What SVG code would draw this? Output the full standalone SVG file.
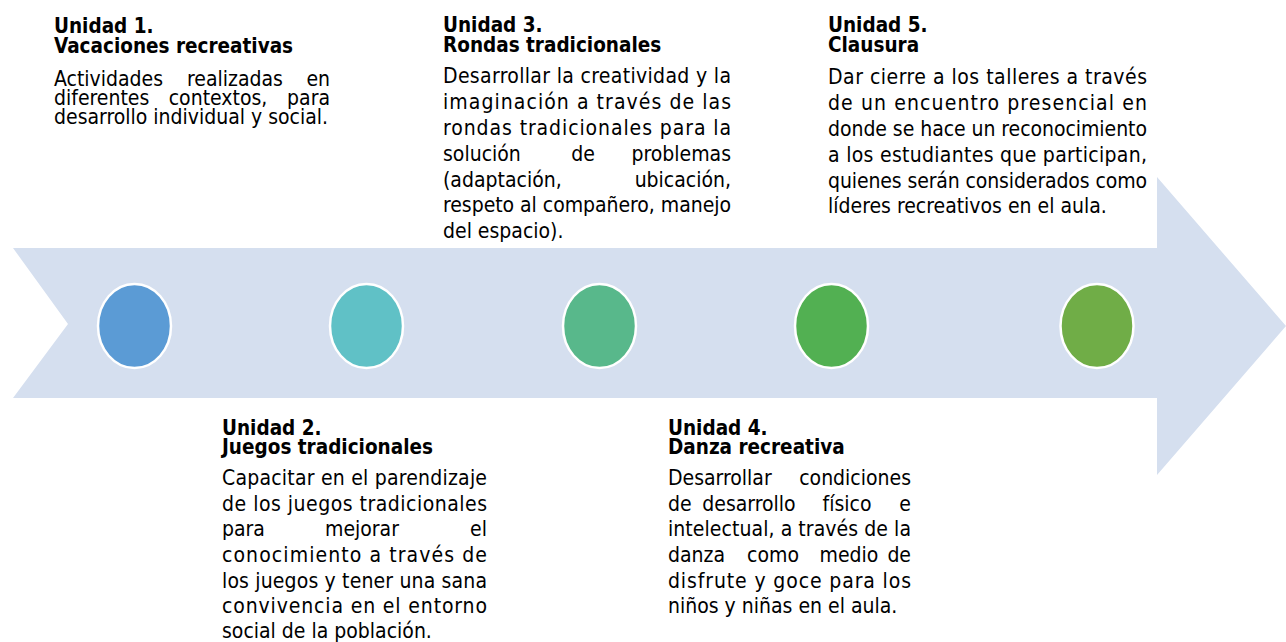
<svg xmlns="http://www.w3.org/2000/svg" width="1286" height="642" viewBox="0 0 1286 642">
  <style>
    text { font-family: "DejaVu Sans Condensed", "DejaVu Sans", sans-serif; font-stretch: condensed; fill: #000; }
    .t { font-size: 20.5px; font-weight: bold; }
    .b { font-size: 21px; }
    .e { text-anchor: end; }
    .m { text-anchor: middle; }
    .dot { stroke: #ffffff; stroke-width: 2.5; }
  </style>
  <rect x="0" y="0" width="1286" height="642" fill="#ffffff"/>
  <g id="timeline-arrow">
    <polygon points="13,248 1157,248 1157,177 1286,326 1157,475 1157,398 13,398 68,324" fill="#D5DFEF"/>
  </g>
  <g id="connectors"></g>

  <g id="node-unidad1">
    <ellipse class="dot" cx="134.5" cy="326" rx="36.5" ry="42" fill="#5B9BD5"/>
    <text class="t" x="54" y="33">Unidad 1.</text>
    <text class="t" x="54" y="53">Vacaciones recreativas</text>
    <text class="b" x="54" y="86">Actividades</text>
    <text class="b m" x="235" y="86">realizadas</text>
    <text class="b e" x="330" y="86">en</text>
    <text class="b" x="54" y="105">diferentes</text>
    <text class="b m" x="218" y="105">contextos,</text>
    <text class="b e" x="330" y="105">para</text>
    <text class="b" x="54" y="124">desarrollo individual y social.</text>
  </g>

  <g id="node-unidad2">
    <ellipse class="dot" cx="366.5" cy="326" rx="36.5" ry="42" fill="#60C1C6"/>
    <text class="t" x="222" y="435">Unidad 2.</text>
    <text class="t" x="222" y="454">Juegos tradicionales</text>
    <text class="b" x="222" y="485" textLength="265" lengthAdjust="spacing">Capacitar en el parendizaje</text>
    <text class="b" x="222" y="511" textLength="265" lengthAdjust="spacing">de los juegos tradicionales</text>
    <text class="b" x="222" y="536">para</text>
    <text class="b m" x="362" y="536">mejorar</text>
    <text class="b e" x="487" y="536">el</text>
    <text class="b" x="222" y="562" textLength="265" lengthAdjust="spacing">conocimiento a través de</text>
    <text class="b" x="222" y="588" textLength="265" lengthAdjust="spacing">los juegos y tener una sana</text>
    <text class="b" x="222" y="613" textLength="265" lengthAdjust="spacing">convivencia en el entorno</text>
    <text class="b" x="222" y="638">social de la población.</text>
  </g>

  <g id="node-unidad3">
    <ellipse class="dot" cx="599.5" cy="326" rx="36.5" ry="42" fill="#58B88B"/>
    <text class="t" x="443" y="32">Unidad 3.</text>
    <text class="t" x="443" y="52">Rondas tradicionales</text>
    <text class="b" x="443" y="83" textLength="288" lengthAdjust="spacing">Desarrollar la creatividad y la</text>
    <text class="b" x="443" y="109" textLength="288" lengthAdjust="spacing">imaginación a través de las</text>
    <text class="b" x="443" y="135" textLength="288" lengthAdjust="spacing">rondas tradicionales para la</text>
    <text class="b" x="443" y="161">solución</text>
    <text class="b m" x="583" y="161">de</text>
    <text class="b e" x="731" y="161">problemas</text>
    <text class="b" x="443" y="187">(adaptación,</text>
    <text class="b e" x="731" y="187">ubicación,</text>
    <text class="b" x="443" y="212" textLength="288" lengthAdjust="spacing">respeto al compañero, manejo</text>
    <text class="b" x="443" y="238">del espacio).</text>
  </g>

  <g id="node-unidad4">
    <ellipse class="dot" cx="831.5" cy="326" rx="36.5" ry="42" fill="#52B052"/>
    <text class="t" x="668" y="435">Unidad 4.</text>
    <text class="t" x="668" y="454">Danza recreativa</text>
    <text class="b" x="668" y="485">Desarrollar</text>
    <text class="b e" x="911" y="485">condiciones</text>
    <text class="b" x="668" y="511">de</text>
    <text class="b m" x="749" y="511">desarrollo</text>
    <text class="b m" x="847" y="511">físico</text>
    <text class="b e" x="911" y="511">e</text>
    <text class="b" x="668" y="536" textLength="243" lengthAdjust="spacing">intelectual, a través de la</text>
    <text class="b" x="668" y="562">danza</text>
    <text class="b m" x="773" y="562">como</text>
    <text class="b m" x="849" y="562">medio</text>
    <text class="b e" x="911" y="562">de</text>
    <text class="b" x="668" y="588" textLength="243" lengthAdjust="spacing">disfrute y goce para los</text>
    <text class="b" x="668" y="613">niños y niñas en el aula.</text>
  </g>

  <g id="node-unidad5">
    <ellipse class="dot" cx="1097" cy="326" rx="36.5" ry="42" fill="#70AD47"/>
    <text class="t" x="828" y="32">Unidad 5.</text>
    <text class="t" x="828" y="52">Clausura</text>
    <text class="b" x="828" y="84" textLength="319" lengthAdjust="spacing">Dar cierre a los talleres a través</text>
    <text class="b" x="828" y="110" textLength="319" lengthAdjust="spacing">de un encuentro presencial en</text>
    <text class="b" x="828" y="136" textLength="319" lengthAdjust="spacing">donde se hace un reconocimiento</text>
    <text class="b" x="828" y="162" textLength="319" lengthAdjust="spacing">a los estudiantes que participan,</text>
    <text class="b" x="828" y="188" textLength="319" lengthAdjust="spacing">quienes serán considerados como</text>
    <text class="b" x="828" y="213">líderes recreativos en el aula.</text>
  </g>
</svg>
